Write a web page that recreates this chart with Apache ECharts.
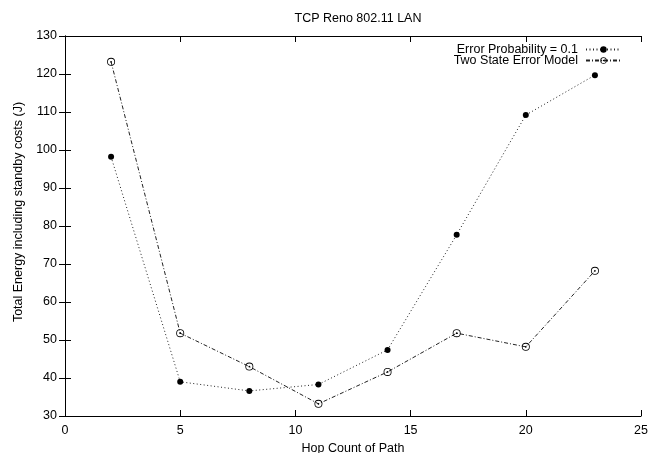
<!DOCTYPE html>
<html><head><meta charset="utf-8">
<script src="https://cdn.jsdelivr.net/npm/echarts@6/dist/echarts.min.js"></script>
<style>html,body{margin:0;padding:0;background:#fff}#c{width:663px;height:453px}</style>
</head><body><div id="c"></div>
<script>
const hops = [2, 5, 8, 11, 14, 17, 20, 23];
const errProb = [98.2, 39.0, 36.6, 38.3, 47.4, 77.7, 109.2, 119.7];
const twoState = [123.2, 51.8, 43.0, 33.2, 41.6, 51.8, 48.2, 68.2];
const xTicks = [0, 5, 10, 15, 20, 25];
const yTicks = [30, 40, 50, 60, 70, 80, 90, 100, 110, 120, 130];

const font = 'Liberation Sans, Arial, Helvetica, sans-serif';
const fs = 12.5;
const ringDot = 'path://M0,-10 A10,10 0 1,1 0,10 A10,10 0 1,1 0,-10 Z M0,-8 A8,8 0 1,0 0,8 A8,8 0 1,0 0,-8 Z M0,-2.2 A2.2,2.2 0 1,1 0,2.2 A2.2,2.2 0 1,1 0,-2.2 Z';

const chart = echarts.init(document.getElementById('c'), null, {renderer: 'canvas'});
const axLine = {show: true, lineStyle: {color: '#000', width: 1}};
const tick = {show: true, inside: true, length: 6, lineStyle: {color: '#000', width: 1}};
chart.setOption({
  animation: false,
  backgroundColor: '#fff',
  title: {text: 'TCP Reno 802.11 LAN', left: 353, textAlign: 'center', top: 7,
    textStyle: {fontFamily: font, fontSize: fs, fontWeight: 'normal', color: '#000'}},
  grid: {left: 65, right: 22, top: 36, bottom: 37, containLabel: false, outerBoundsMode: 'none'},
  legend: {
    right: 36, top: 38, orient: 'vertical', align: 'right', itemGap: -2,
    itemWidth: 35, itemHeight: 8,
    textStyle: {fontFamily: font, fontSize: fs, color: '#000', padding: [0, 3, 0, 0]},
    data: ['Error Probability = 0.1', 'Two State Error Model']
  },
  xAxis: [{
    type: 'value', min: 0, max: 25, interval: 5,
    name: 'Hop Count of Path', nameLocation: 'middle', nameGap: 25,
    nameTextStyle: {fontFamily: font, fontSize: fs, color: '#000'},
    axisLine: axLine, axisTick: tick, splitLine: {show: false},
    axisLabel: {fontFamily: font, fontSize: fs, color: '#000', margin: 8}
  }, {
    type: 'value', position: 'top', min: 0, max: 25, interval: 5,
    axisLine: axLine, axisTick: tick, splitLine: {show: false}, axisLabel: {show: false}
  }],
  yAxis: [{
    type: 'value', min: 30, max: 130, interval: 10,
    name: 'Total Energy including standby costs (J)', nameLocation: 'middle', nameGap: 37,
    nameTextStyle: {fontFamily: font, fontSize: fs, color: '#000', padding: [0, 0, 0, 28]},
    axisLine: axLine, axisTick: tick, splitLine: {show: false},
    axisLabel: {fontFamily: font, fontSize: fs, color: '#000', margin: 8}
  }, {
    type: 'value', position: 'right', min: 30, max: 130, interval: 10,
    axisLine: axLine, axisTick: tick, splitLine: {show: false}, axisLabel: {show: false}
  }],
  series: [{
    name: 'Error Probability = 0.1', type: 'line',
    data: hops.map((h, i) => [h, errProb[i]]),
    symbol: 'circle', symbolSize: 6,
    itemStyle: {color: '#000'},
    lineStyle: {color: '#222', width: 1, type: [1, 2.5]}
  }, {
    name: 'Two State Error Model', type: 'line',
    data: hops.map((h, i) => [h, twoState[i]]),
    symbol: ringDot, symbolSize: 8,
    itemStyle: {color: '#000'},
    lineStyle: {color: '#222', width: 1, type: [4, 2, 1, 2]}
  }]
});
</script></body></html>
